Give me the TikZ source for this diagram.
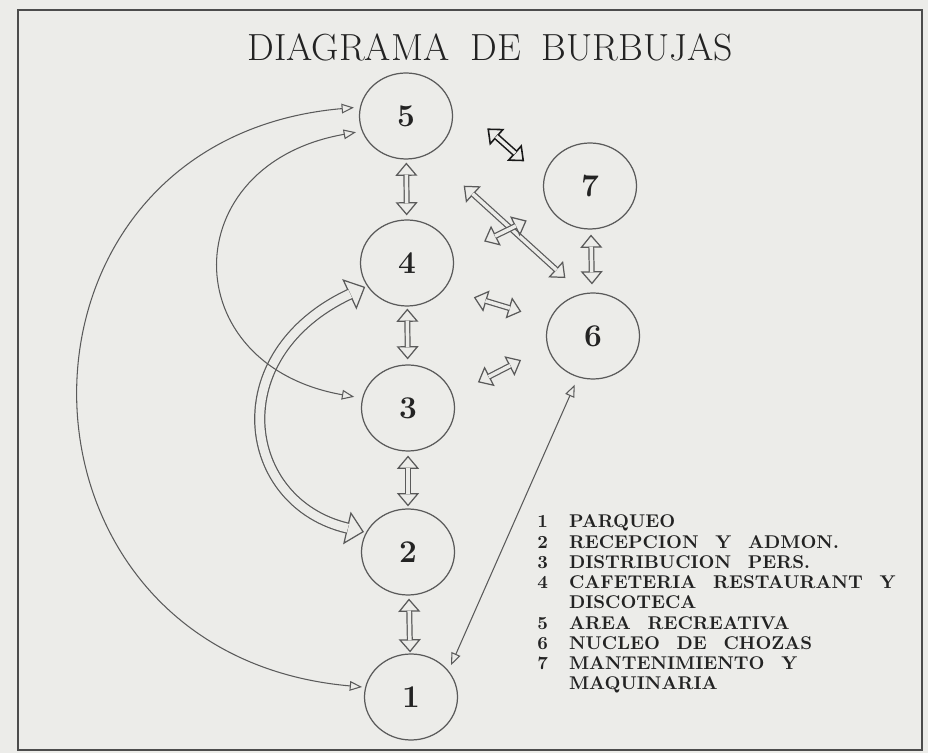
\documentclass[tikz,border=0pt]{standalone}
\usetikzlibrary{arrows.meta, shapes.geometric}

\definecolor{papier}{RGB}{236,236,233}
\definecolor{tinte}{RGB}{90,90,90}
\definecolor{schrift}{RGB}{35,35,35}

% Masse der Hohlpfeile
\def\spl{7.5pt}  % Spitzenlaenge
\def\spb{12.5pt} % Spitzenbreite
\def\spd{2pt}    % Schaftbreite

\tikzset{
  blase/.style={ellipse, draw=tinte, line width=0.7pt, minimum width=18.6mm,
    minimum height=17.2mm, inner sep=0pt, text=schrift,
    font=\fontsize{18}{20}\selectfont\bfseries},
  duenn/.style={draw=tinte, line width=0.6pt,
    {Triangle[open,length=7pt,width=5.5pt]}-{Triangle[open,length=7pt,width=5.5pt]}},
  spitze/.style={draw=tinte, line width=0.7pt,
    {Triangle[open,length=\spl,width=\spb]}-{Triangle[open,length=\spl,width=\spb]}},
  schaft/.style={draw=tinte, line width=0.7pt, double=papier, double distance=\spd},
}

% Hohlpfeil: Spitzen, dann Schaft darueber
\newcommand{\hohl}[4][]{%
  \draw[spitze, #1, shorten <=#2, shorten >=#3] #4;
  \draw[schaft, #1, shorten <=#2+\spl-0.6pt, shorten >=#3+\spl-0.6pt] #4;}

\begin{document}
\begin{tikzpicture}[x=0.2mm, y=0.2mm]

  % Papier und Rahmen
  \fill[papier] (0,0) rectangle (928,753);
  \useasboundingbox (0,0) rectangle (928,753);
  \draw[gray!60!black, line width=1pt] (18,3) rectangle (922,743);

  % Titel
  \node[anchor=base, text=schrift,
    font={\fontsize{21.5}{25}\selectfont\spaceskip=12pt}] (titel) at (490,692)
    {DIAGRAMA DE BURBUJAS};

  % Blasen
  \node[blase] (b5) at (406,637) {5};
  \node[blase] (b4) at (407,490) {4};
  \node[blase] (b3) at (408,345) {3};
  \node[blase] (b2) at (408,201) {2};
  \node[blase] (b1) at (411,56) {1};
  \node[blase] (b7) at (590,567) {7};
  \node[blase] (b6) at (593,417) {6};

  % dicker Bogen 2 - 4
  {\def\spl{10pt}\def\spb{19pt}\def\spd{5pt}
   \hohl{0.4mm}{0.4mm}{(b2.155) to[out=167, in=205, out looseness=1.33, in looseness=1.69] (b4.210)}}

  % duenne Boegen
  \draw[duenn, shorten <=0.6mm, shorten >=1.2mm]
    (b1.168) to[out=175, in=185, looseness=1.66] (b5.169);
  \draw[duenn, shorten <=1.6mm, shorten >=1.2mm]
    (b3.168) to[out=170, in=190, looseness=1.83] (b5.199);
  \draw[duenn, shorten <=1.2mm, shorten >=1.6mm] (b1.35) -- (b6.250);

  % Hohlpfeile senkrecht
  \hohl{0.6mm}{0.8mm}{(b5) -- (b4)}
  \hohl{0.4mm}{1mm}{(b4) -- (b3)}
  \hohl{0.8mm}{0.4mm}{(b3) -- (b2)}
  \hohl{0.6mm}{0.2mm}{(b2) -- (b1)}
  \hohl{1mm}{1.6mm}{(b7) -- (b6)}

  % Hohlpfeile schraeg
  \hohl{9.4mm}{4.6mm}{(b5.-59) -- (b6.104)}
  \hohl{6.8mm}{5.2mm}{(b4.8) -- (b7.210)}
  \hohl{6mm}{5.8mm}{(b4.-34) -- (b6.160)}
  \hohl{5.6mm}{5.9mm}{(b3.16) -- (b6.193)}
  \hohl[draw=black!90, line width=0.9pt]{12mm}{5.2mm}{(b5.37) -- (b7.171)}

  % Legende
  \node[anchor=base west, inner sep=0pt, text=schrift,
    font={\fontsize{10.5}{11.5}\selectfont\bfseries\spaceskip=9.5pt}] (legende) at (537,225)
    {\begin{tabular}[t]{@{}l@{\hspace{12pt}}l@{}}
      1 & PARQUEO\\
      2 & RECEPCION Y ADMON.\\
      3 & DISTRIBUCION PERS.\\
      4 & CAFETERIA RESTAURANT Y\\
        & DISCOTECA\\
      5 & AREA RECREATIVA\\
      6 & NUCLEO DE CHOZAS\\
      7 & MANTENIMIENTO Y\\
        & MAQUINARIA
    \end{tabular}};

\end{tikzpicture}
\end{document}
